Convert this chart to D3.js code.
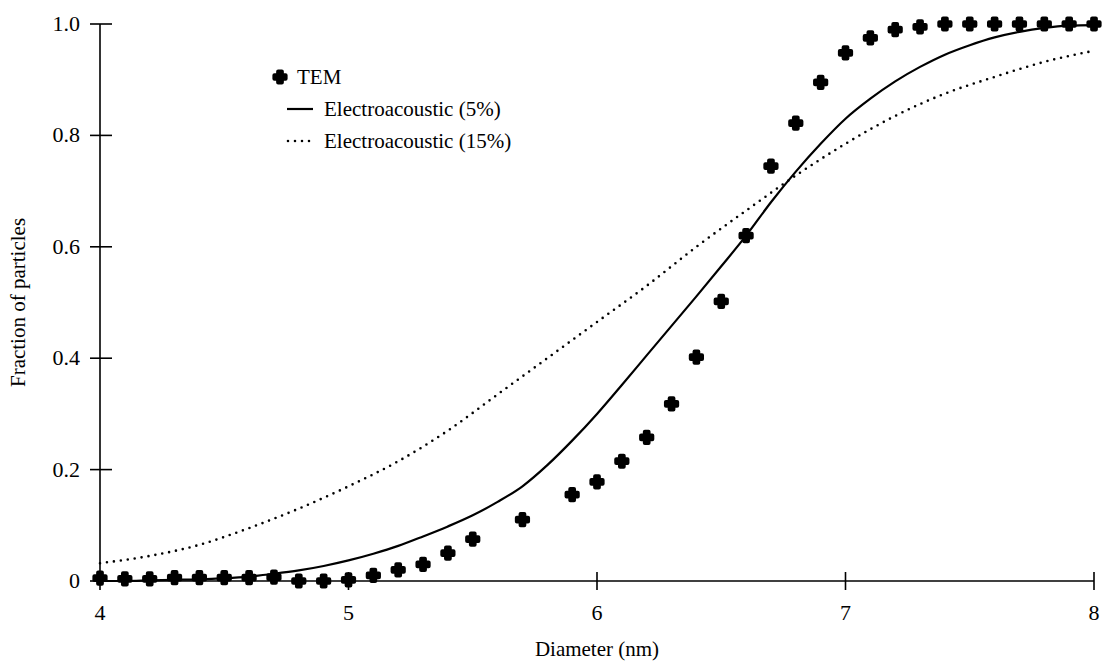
<!DOCTYPE html>
<html>
<head>
<meta charset="utf-8">
<script src="https://cdn.jsdelivr.net/npm/d3@7"></script>
<style>
  body { margin: 0; background: #fff; }
  svg text { font-family: "Liberation Serif", "Times New Roman", Times, "DejaVu Serif", serif; }
</style>
</head>
<body>
<svg width="1102" height="662"></svg>
<script>
// TEM measured points (5.6 and 5.8 are missing in the original)
var temX = [4.0, 4.1, 4.2, 4.3, 4.4, 4.5, 4.6, 4.7, 4.8, 4.9, 5.0, 5.1, 5.2, 5.3, 5.4, 5.5,
  5.7, 5.9, 6.0, 6.1, 6.2, 6.3, 6.4, 6.5, 6.6, 6.7, 6.8, 6.9, 7.0, 7.1, 7.2, 7.3, 7.4,
  7.5, 7.6, 7.7, 7.8, 7.9, 8.0];
var temY = [0.005, 0.004, 0.004, 0.006, 0.006, 0.006, 0.006, 0.007, 0.0, 0.0, 0.002, 0.01, 0.02, 0.03, 0.05, 0.075,
  0.11, 0.155, 0.178, 0.215, 0.258, 0.318, 0.402, 0.502, 0.62, 0.745, 0.822, 0.895, 0.948, 0.975, 0.99, 0.995, 1.0,
  1.0, 1.0, 1.0, 1.0, 1.0, 1.0];

// Electroacoustic (5%)
var ea5X = [4.0, 4.1, 4.2, 4.3, 4.4, 4.5, 4.6, 4.7, 4.8, 4.9, 5.0, 5.1, 5.2, 5.3, 5.4, 5.5, 5.6, 5.7, 5.8, 5.9,
  6.0, 6.1, 6.2, 6.3, 6.4, 6.5, 6.6, 6.7, 6.8, 6.9, 7.0, 7.1, 7.2, 7.3, 7.4, 7.5, 7.6, 7.7, 7.8, 7.9, 8.0];
var ea5Y = [0.0, 0.0, 0.001, 0.002, 0.003, 0.005, 0.008, 0.013, 0.019, 0.027, 0.037, 0.049, 0.063, 0.08, 0.098, 0.118, 0.142, 0.17, 0.208, 0.252,
  0.3, 0.352, 0.405, 0.458, 0.511, 0.565, 0.62, 0.68, 0.735, 0.785, 0.83, 0.866, 0.897, 0.923, 0.945, 0.962, 0.976, 0.986, 0.993, 0.997, 0.998];

// Electroacoustic (15%)
var ea15X = [4.0, 4.2, 4.4, 4.6, 4.8, 5.0, 5.2, 5.4, 5.6, 5.8, 6.0, 6.2, 6.4, 6.6, 6.8, 7.0, 7.2, 7.4, 7.6, 7.8, 8.0];
var ea15Y = [0.032, 0.045, 0.065, 0.095, 0.13, 0.17, 0.215, 0.27, 0.335, 0.4, 0.465, 0.53, 0.6, 0.665, 0.728, 0.785, 0.835, 0.875, 0.905, 0.932, 0.952];

var xTicks = [4, 5, 6, 7, 8];
var yTicks = [0, 0.2, 0.4, 0.6, 0.8, 1.0];
var yTickLabels = ["0", "0.2", "0.4", "0.6", "0.8", "1.0"];

var svg = d3.select("svg");
var serif = "'Liberation Serif', 'Times New Roman', 'DejaVu Serif', serif";

var x = d3.scaleLinear().domain([4, 8]).range([100, 1094]);
var y = d3.scaleLinear().domain([0, 1]).range([581, 24]);

// axes, ticks cross the axis line
var xAxis = svg.append("g").attr("transform", "translate(0," + y(0) + ")");
xAxis.append("line").attr("x1", x(4)).attr("x2", x(8)).attr("stroke", "#000").attr("stroke-width", 1.6);
xAxis.selectAll(".xt").data(xTicks).enter().append("line")
  .attr("x1", d => x(d)).attr("x2", d => x(d))
  .attr("y1", -9).attr("y2", 9)
  .attr("stroke", "#000").attr("stroke-width", 1.6);
xAxis.selectAll(".xl").data(xTicks).enter().append("text")
  .attr("x", d => x(d)).attr("y", 39)
  .attr("text-anchor", "middle")
  .style("font-family", serif)
  .style("font-size", "22px")
  .text(d => d);

var yAxis = svg.append("g").attr("transform", "translate(" + x(4) + ",0)");
yAxis.append("line").attr("y1", y(0)).attr("y2", y(1)).attr("stroke", "#000").attr("stroke-width", 1.6);
yAxis.selectAll(".yt").data(yTicks).enter().append("line")
  .attr("y1", d => y(d)).attr("y2", d => y(d))
  .attr("x1", -10).attr("x2", 12)
  .attr("stroke", "#000").attr("stroke-width", 1.6);
yAxis.selectAll(".yl").data(yTicks).enter().append("text")
  .attr("x", -20).attr("y", d => y(d) + 7)
  .attr("text-anchor", "end")
  .style("font-family", serif)
  .style("font-size", "22px")
  .text((d, i) => yTickLabels[i]);

svg.append("text")
  .attr("x", (x(4) + x(8)) / 2).attr("y", 656)
  .attr("text-anchor", "middle")
  .style("font-family", serif)
  .style("font-size", "21px")
  .text("Diameter (nm)");

svg.append("text")
  .attr("transform", "translate(25," + (y(0) + y(1)) / 2 + ") rotate(-90)")
  .attr("text-anchor", "middle")
  .style("font-family", serif)
  .style("font-size", "21px")
  .text("Fraction of particles");

// curves
var line = d3.line().x(d => x(d[0])).y(d => y(d[1])).curve(d3.curveMonotoneX);

svg.append("path")
  .datum(d3.zip(ea15X, ea15Y))
  .attr("fill", "none").attr("stroke", "#000")
  .attr("stroke-width", 2.6)
  .attr("stroke-linecap", "round")
  .attr("stroke-dasharray", "0,7")
  .attr("d", line);

svg.append("path")
  .datum(d3.zip(ea5X, ea5Y))
  .attr("fill", "none").attr("stroke", "#000")
  .attr("stroke-width", 2.2)
  .attr("d", line);

// TEM markers
var marker = d3.symbol().type(d3.symbolCross).size(70);
function blob(sel) {
  sel.attr("d", marker)
    .attr("fill", "#000").attr("stroke", "#000")
    .attr("stroke-width", 4).attr("stroke-linejoin", "round");
}
svg.selectAll(".tem").data(d3.zip(temX, temY)).enter().append("path")
  .attr("transform", d => "translate(" + x(d[0]) + "," + y(d[1]) + ")")
  .call(blob);

// legend
var leg = svg.append("g").style("font-family", serif).style("font-size", "21px");
leg.append("path").attr("transform", "translate(280,77)").call(blob);
leg.append("text").attr("x", 297).attr("y", 84).text("TEM");

leg.append("line").attr("x1", 287).attr("x2", 313).attr("y1", 109).attr("y2", 109)
  .attr("stroke", "#000").attr("stroke-width", 2.2);
leg.append("text").attr("x", 324).attr("y", 116).text("Electroacoustic (5%)");

leg.append("line").attr("x1", 288).attr("x2", 314).attr("y1", 141).attr("y2", 141)
  .attr("stroke", "#000").attr("stroke-width", 2.6)
  .attr("stroke-linecap", "round").attr("stroke-dasharray", "0,7");
leg.append("text").attr("x", 324).attr("y", 148).text("Electroacoustic (15%)");
</script>
</body>
</html>
